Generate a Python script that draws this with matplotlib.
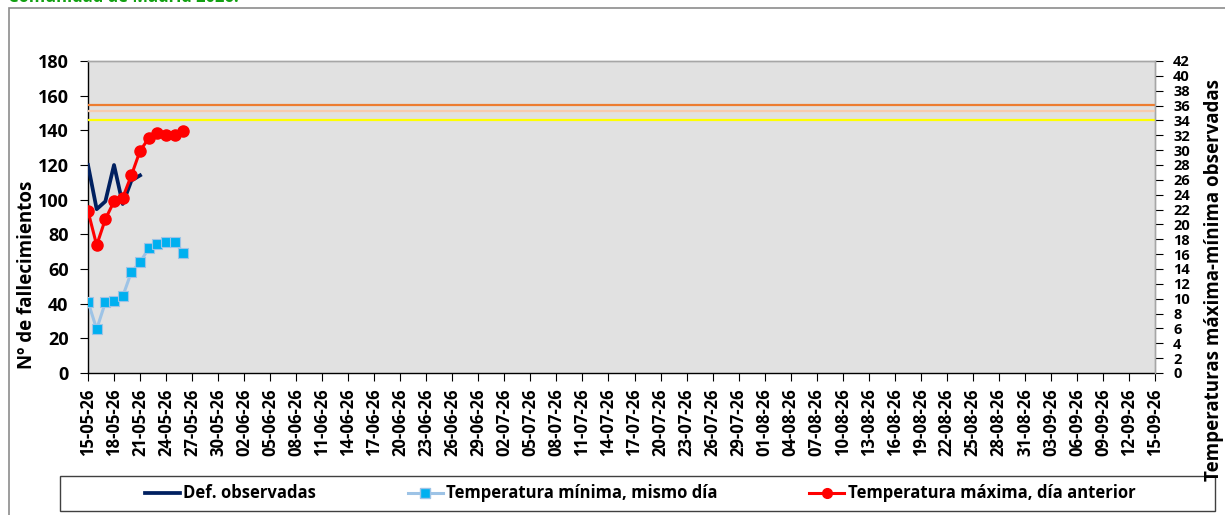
import matplotlib
matplotlib.use("Agg")
import matplotlib.pyplot as plt
import matplotlib.dates as mdates
import numpy as np
import pandas as pd
from matplotlib.patches import Rectangle
from matplotlib.lines import Line2D

plt.rcParams['font.family'] = ['Open Sans', 'DejaVu Sans']
plt.rcParams['font.weight'] = 'bold'

# ---------------- data ----------------
start_date = "2026-05-15"
end_date = "2026-09-15"
deaths_observed = [120, 94.5, 99, 120, 97.5, 111, 114]
temp_min_same_day = [9.6, 5.9, 9.5, 9.7, 10.3, 13.6, 14.9, 16.8, 17.4, 17.7, 17.6, 16.2]
temp_max_prev_day = [21.8, 17.2, 20.7, 23.1, 23.6, 26.6, 29.9, 31.6, 32.3, 32.0, 32.0, 32.6]
threshold_levels = [36.05, 35.25, 34.0]
threshold_colors = ['#ED7D31', '#F8CBAD', '#FFFF00']
title_text = "Comunidad de Madrid 2026."
left_label = "Nº de fallecimientos"
right_label = "Temperaturas máxima-mínima observadas"
legend_labels = ["Def. observadas", "Temperatura mínima, mismo día", "Temperatura máxima, día anterior"]

dates_deaths = pd.date_range(start_date, periods=len(deaths_observed), freq="D")
dates_temp = pd.date_range(start_date, periods=len(temp_min_same_day), freq="D")
tick_dates = pd.date_range(start_date, end_date, freq="3D")

W, H = 1225, 515
fig = plt.figure(figsize=(W / 100, H / 100), dpi=100)

# outer frame
fig.patches.append(Rectangle((9 / W, -0.1), 1.2, 1 - 8 / H + 0.1, transform=fig.transFigure,
                             fill=False, edgecolor='#8C8C8C', linewidth=1.2))
fig.text(8 / W, 1 + 3 / H, title_text, color='#12A012', fontsize=12, fontweight='bold',
         ha='left', va='center')

left, right, top, bottom = 88, 1155, 61, 373
ax = fig.add_axes([left / W, 1 - bottom / H, (right - left) / W, (bottom - top) / H])
ax.set_facecolor('#E1E1E1')
ax2 = ax.twinx()

ax.set_xlim(pd.Timestamp(start_date), pd.Timestamp(end_date))
ax.set_ylim(0, 180)
ax2.set_ylim(0, 42)

for lvl, col in zip(threshold_levels, threshold_colors):
    ax2.axhline(lvl, color=col, linewidth=1.6, zorder=1)

ax.plot(dates_deaths, deaths_observed, color='#002060', linewidth=2.7, zorder=3)
ax2.plot(dates_temp, temp_min_same_day, color='#9DC3E6', linewidth=2.2, marker='s',
         markersize=7.5, markerfacecolor='#00B0F0', markeredgecolor='#9DC3E6',
         markeredgewidth=0.8, zorder=3)
ax2.plot(dates_temp, temp_max_prev_day, color='#FF0000', linewidth=2.2, marker='o',
         markersize=8, markerfacecolor='#FF0000', markeredgecolor='#FF0000', zorder=4)

ax.set_yticks(np.arange(0, 181, 20))
ax2.set_yticks(np.arange(0, 43, 2))
ax.set_xticks(tick_dates)
ax.xaxis.set_major_formatter(mdates.DateFormatter('%d-%m-%y'))
ax.tick_params(axis='x', rotation=90, labelsize=12, length=6, pad=5, direction='out')
ax.tick_params(axis='y', labelsize=13, length=6, pad=8, direction='out')
ax2.tick_params(axis='y', labelsize=10.5, length=6, pad=7, direction='out')
for lab in ax.get_xticklabels() + ax.get_yticklabels() + ax2.get_yticklabels():
    lab.set_fontweight('bold')

for a in (ax, ax2):
    a.spines['left'].set_color('#000000')
    a.spines['bottom'].set_color('#000000')
    a.spines['top'].set_color('#A6A6A6')
    a.spines['right'].set_color('#A6A6A6')
    for s in a.spines.values():
        s.set_linewidth(1.0)
ax2.spines['left'].set_visible(False)
ax2.spines['bottom'].set_visible(False)
ax.grid(False)

fig.text(27 / W, 1 - 275 / H, left_label, rotation=90, ha='center', va='center',
         fontsize=13.5, fontweight='bold')
fig.text(1214 / W, 1 - 280 / H, right_label, rotation=90, ha='center', va='center',
         fontsize=13.5, fontweight='bold')

# legend box
fig.patches.append(Rectangle((60 / W, 1 - 511 / H), (1215 - 60) / W, (511 - 476) / H,
                             transform=fig.transFigure, fill=True, facecolor='white',
                             edgecolor='#404040', linewidth=1.0))
handles = [
    Line2D([], [], color='#002060', linewidth=2.7),
    Line2D([], [], color='#9DC3E6', linewidth=2.2, marker='s', markersize=7,
           markerfacecolor='#00B0F0', markeredgecolor='#9DC3E6'),
    Line2D([], [], color='#FF0000', linewidth=2.2, marker='o', markersize=7,
           markerfacecolor='#FF0000'),
]
fig.legend(handles, legend_labels, loc='center', bbox_to_anchor=(640 / W, 1 - 493.5 / H),
           ncol=3, frameon=False, handlelength=2.1, handletextpad=0.2,
           columnspacing=5.5, prop={'weight': 'bold', 'size': 12})

fig.savefig('out.png', dpi=100)
